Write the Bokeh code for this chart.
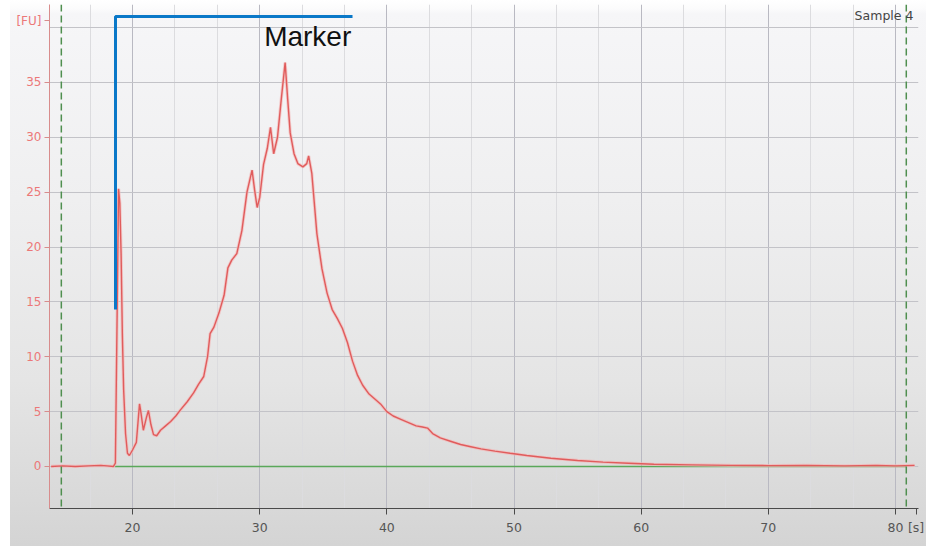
from bokeh.plotting import figure
from bokeh.models import FixedTicker, Label, Span, InlineStyleSheet, Range1d
from bokeh.embed import file_html
from bokeh.resources import INLINE

# ---- data ----
time_s = [13.6, 14.5, 15.5, 16.5, 17.5, 18.0, 18.5, 18.65, 18.8, 18.9, 19.0, 19.1, 19.2,
          19.3, 19.45, 19.6, 19.75, 20.0, 20.3, 20.55, 20.65, 20.85, 21.1, 21.25, 21.45,
          21.65, 21.9, 22.2, 22.6, 23.0, 23.4, 23.8, 24.3, 24.8, 25.2, 25.6, 25.9, 26.1,
          26.4, 26.8, 27.2, 27.5, 27.8, 28.2, 28.6, 29.0, 29.4, 29.6, 29.8, 30.0, 30.3,
          30.6, 30.85, 31.1, 31.4, 31.7, 32.0, 32.2, 32.4, 32.7, 33.0, 33.4, 33.7, 33.85,
          34.1, 34.5, 34.9, 35.3, 35.7, 36.1, 36.5, 36.9, 37.3, 37.7, 38.1, 38.6, 39.1,
          39.5, 40.0, 40.5, 41.1, 41.7, 42.3, 42.8, 43.2, 43.6, 44.2, 45.0, 45.8, 46.6,
          47.4, 48.5, 49.7, 51.0, 52.9, 55.0, 57.0, 59.0, 61.0, 64.0, 67.0, 70.0, 73.0,
          76.0, 78.5, 80.0, 81.5]
fu = [0.0, 0.05, 0.0, 0.05, 0.1, 0.05, 0.0, 0.3, 15.0, 25.3, 24.0, 19.4, 12.0,
      7.0, 3.0, 1.2, 1.0, 1.5, 2.2, 5.7, 5.0, 3.3, 4.5, 5.1, 3.8,
      2.9, 2.8, 3.3, 3.7, 4.1, 4.6, 5.2, 5.9, 6.7, 7.5, 8.2, 10.0, 12.1,
      12.7, 14.0, 15.6, 18.1, 18.8, 19.4, 21.5, 25.0, 27.0, 25.2, 23.6, 24.5, 27.5,
      29.0, 30.9, 28.5, 30.0, 33.5, 36.8, 33.5, 30.4, 28.5, 27.6, 27.3, 27.6, 28.3,
      26.7, 21.2, 18.0, 15.8, 14.3, 13.5, 12.6, 11.3, 9.6, 8.3, 7.4, 6.6, 6.1,
      5.7, 5.0, 4.6, 4.3, 4.0, 3.7, 3.6, 3.5, 3.0, 2.6, 2.3, 2.0, 1.8,
      1.6, 1.4, 1.2, 1.0, 0.75, 0.55, 0.4, 0.3, 0.2, 0.15, 0.1, 0.08, 0.1,
      0.05, 0.1, 0.05, 0.1]

baseline_x = [18.6, 80.85]
baseline_y = [0, 0]

region_bounds = [14.4, 80.85]

marker_x = [18.66, 18.66, 37.3]
marker_y = [14.3, 41.0, 41.0]

x_ticks = [20, 30, 40, 50, 60, 70, 80]
x_unit_pos = 81.62
x_minor = [16.67, 23.33, 26.67, 33.33, 36.67, 43.33, 46.67, 53.33, 56.67,
           63.33, 66.67, 73.33, 76.67]
y_ticks = [0, 5, 10, 15, 20, 25, 30, 35]
y_unit_pos = 40.6
y_grid = [0, 5, 10, 15, 20, 25, 30, 35, 40]

# ---- figure ----
p = figure(width=926, height=546, output_backend="svg", toolbar_location=None,
           x_range=Range1d(13.47, 81.81), y_range=Range1d(-3.83, 42.1),
           min_border_left=49, min_border_right=8, min_border_top=4, min_border_bottom=38)

p.stylesheets = [InlineStyleSheet(css=(
    ":host { background: "
    "linear-gradient(90deg, #ffffff 0px, #ffffff 10px, rgba(255,255,255,0) 10px), "
    "linear-gradient(180deg, #ffffff 0px, #fbfbfc 9px, #f6f6f8 14px, #efeff0 200px, "
    "#e5e5e5 380px, #d9d9d9 500px, #d4d4d4 546px); }"))]
p.background_fill_color = None
p.border_fill_color = None
p.outline_line_color = None

# grid
p.xgrid.ticker = FixedTicker(ticks=x_ticks, minor_ticks=x_minor)
p.xgrid.grid_line_color = "#b9b9c2"
p.xgrid.grid_line_width = 1
p.xgrid.minor_grid_line_color = "#dcdcdf"
p.ygrid.ticker = FixedTicker(ticks=y_grid)
p.ygrid.grid_line_color = "#c3c3c8"

# axes
p.xaxis.ticker = FixedTicker(ticks=x_ticks + [x_unit_pos])
p.xaxis.major_label_overrides = {x_unit_pos: "[s]"}
p.xaxis.axis_line_color = "#4a4a4a"
p.xaxis.major_tick_line_color = "#4a4a4a"
p.xaxis.major_tick_out = 6
p.xaxis.major_tick_in = 0
p.xaxis.minor_tick_line_color = None
p.xaxis.major_label_text_color = "#555555"
p.xaxis.major_label_text_font = "DejaVu Sans"
p.xaxis.major_label_text_font_size = "12.5px"
p.xaxis.major_label_standoff = 5

p.yaxis.ticker = FixedTicker(ticks=y_ticks + [y_unit_pos])
p.yaxis.major_label_overrides = {y_unit_pos: "[FU]"}
p.yaxis.axis_line_color = "#d88c8c"
p.yaxis.major_tick_line_color = "#d88c8c"
p.yaxis.major_tick_out = 5
p.yaxis.major_tick_in = 0
p.yaxis.minor_tick_line_color = None
p.yaxis.major_label_text_color = "#ec7878"
p.yaxis.major_label_text_font = "DejaVu Sans"
p.yaxis.major_label_text_font_size = "12px"
p.yaxis.major_label_standoff = 3

# region bounds (dashed green)
for b in region_bounds:
    p.add_layout(Span(location=b, dimension="height", line_color="#4f8f4f",
                      line_dash="7 4", line_width=1.5))

# baseline
p.line(baseline_x, baseline_y, line_color="#5aa85a", line_width=1.6)

# signal (with soft halo)
p.line(time_s, fu, line_color="#f4b8b8", line_width=3.2, line_alpha=0.7)
p.line(time_s, fu, line_color="#e05c5c", line_width=1.4)

# marker bracket
p.line(marker_x, marker_y, line_color="#0a78c8", line_width=3)

p.add_layout(Label(x=37.2, y=39.2, text="Marker", text_align="right",
                   text_baseline="middle", text_font="Liberation Sans",
                   text_font_size="28px", text_color="#111111"))
p.add_layout(Label(x=81.41, y=41.1, text="Sample 4", text_align="right",
                   text_baseline="middle", text_font="DejaVu Sans",
                   text_font_size="12.5px", text_color="#444444"))

open("out.html", "w").write(file_html(p, INLINE))
